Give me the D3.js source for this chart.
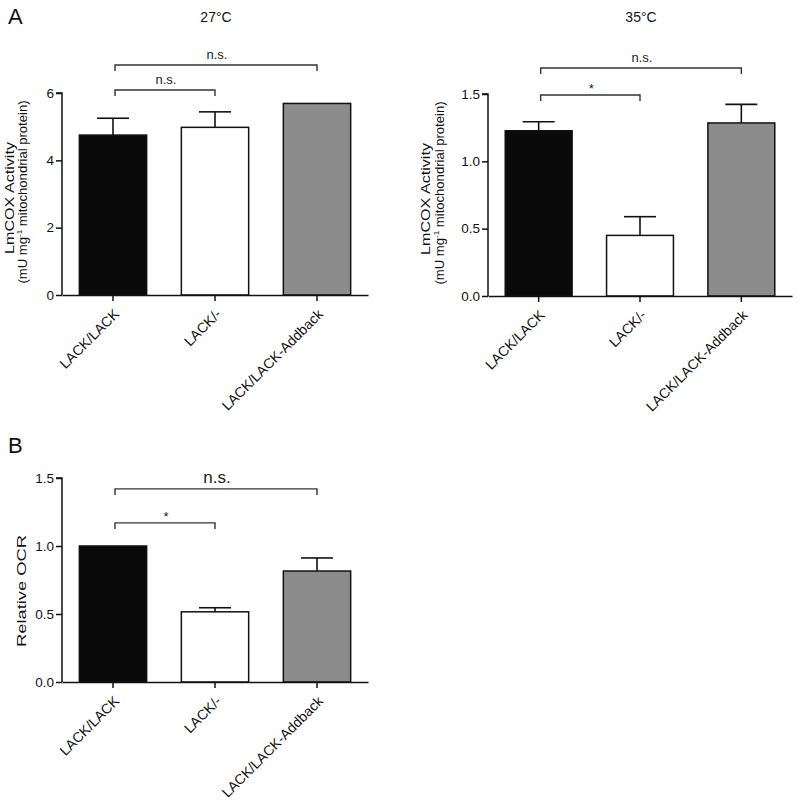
<!DOCTYPE html>
<html><head><meta charset="utf-8">
<script src="https://cdn.jsdelivr.net/npm/d3@7"></script>
<style>body{margin:0;background:#fff}svg{display:block;font-family:"Liberation Sans",Arial,sans-serif}</style>
</head><body>
<svg id="chart" width="800" height="807"></svg>
<script>
const categories = ["LACK/LACK", "LACK/-", "LACK/LACK-Addback"];
const barColors = ["#0a0a0a", "#ffffff", "#8c8c8c"];

const cox27 = [4.75, 4.98, 5.69];
const cox27Err = [0.50, 0.46, 0];
const cox27Ticks = [0, 2, 4, 6];
const cox27Brackets = [
  {from: 0, to: 2, level: 6.83, label: "n.s."},
  {from: 0, to: 1, level: 6.09, label: "n.s."}
];

const cox35 = [1.227, 0.45, 1.285];
const cox35Err = [0.067, 0.139, 0.138];
const cox35Ticks = [0, 0.5, 1.0, 1.5];
const cox35Brackets = [
  {from: 0, to: 2, level: 1.693, label: "n.s."},
  {from: 0, to: 1, level: 1.493, label: "*"}
];

const ocr = [1.0, 0.516, 0.816];
const ocrErr = [0, 0.03, 0.096];
const ocrTicks = [0, 0.5, 1.0, 1.5];
const ocrBrackets = [
  {from: 0, to: 2, level: 1.42, label: "n.s."},
  {from: 0, to: 1, level: 1.17, label: "*"}
];

const svg = d3.select("#chart");

function drawPanel(cfg) {
  const g = svg.append("g");
  const x = d3.scaleBand().domain(categories).range([cfg.x0, cfg.x1])
    .paddingInner(0.34).paddingOuter(0.17);
  const y = d3.scaleLinear().domain([0, cfg.ymax]).range([cfg.yBottom, cfg.yTop]);
  const data = categories.map((c, i) => ({c, v: cfg.values[i], e: cfg.errs[i], col: barColors[i]}));

  // error bars (upper only)
  const eb = g.append("g").selectAll("g").data(data.filter(d => d.e > 0)).join("g");
  eb.append("line")
    .attr("x1", d => x(d.c) + x.bandwidth() / 2).attr("x2", d => x(d.c) + x.bandwidth() / 2)
    .attr("y1", d => y(d.v)).attr("y2", d => y(d.v + d.e))
    .attr("stroke", "#111").attr("stroke-width", 1.6);
  eb.append("line")
    .attr("x1", d => x(d.c) + x.bandwidth() / 2 - 16).attr("x2", d => x(d.c) + x.bandwidth() / 2 + 16)
    .attr("y1", d => y(d.v + d.e)).attr("y2", d => y(d.v + d.e))
    .attr("stroke", "#111").attr("stroke-width", 1.6);

  // bars
  g.append("g").selectAll("rect").data(data).join("rect")
    .attr("x", d => x(d.c)).attr("width", x.bandwidth())
    .attr("y", d => y(d.v)).attr("height", d => y(0) - y(d.v))
    .attr("fill", d => d.col).attr("stroke", "#111").attr("stroke-width", 1.5);

  // y axis
  const yAxis = d3.axisLeft(y).tickValues(cfg.ticks).tickSize(6).tickPadding(2)
    .tickFormat(cfg.fmt);
  const ya = g.append("g").attr("transform", `translate(${cfg.x0},0)`).call(yAxis);
  ya.select(".domain").attr("d", `M-6,${y(cfg.ymax)}H0V${y(0)}`).attr("stroke", "#111").attr("stroke-width", 1.5);
  ya.selectAll(".tick line").attr("stroke", "#111").attr("stroke-width", 1.5);
  ya.selectAll(".tick text").attr("font-size", 13.5).attr("fill", "#111")
    .attr("font-family", '"Liberation Sans",Arial,sans-serif');

  // x axis
  const xAxis = d3.axisBottom(x).tickSize(6).tickSizeOuter(0);
  const xa = g.append("g").attr("transform", `translate(0,${cfg.yBottom})`).call(xAxis);
  xa.select(".domain").attr("stroke", "#111").attr("stroke-width", 1.5);
  xa.selectAll(".tick line").attr("stroke", "#111").attr("stroke-width", 1.5);
  xa.selectAll(".tick text")
    .attr("font-size", 14).attr("fill", "#111")
    .attr("font-family", '"Liberation Sans",Arial,sans-serif')
    .attr("text-anchor", "end").attr("dy", null).attr("y", null)
    .attr("transform", "translate(7,20) rotate(-45)");

  // significance brackets
  const br = g.append("g").selectAll("g").data(cfg.brackets).join("g");
  const cx = i => x(categories[i]) + x.bandwidth() / 2 + 2;
  br.append("path")
    .attr("d", d => `M${cx(d.from)},${y(d.level) + 6}V${y(d.level)}H${cx(d.to) - 2}V${y(d.level) + 6}`)
    .attr("fill", "none").attr("stroke", "#333").attr("stroke-width", 1.4);
  br.append("text")
    .attr("x", d => (cx(d.from) + cx(d.to)) / 2)
    .attr("y", d => y(d.level) - (d.label === "*" ? 2 : 6))
    .attr("text-anchor", "middle")
    .attr("font-size", d => d.label === "*" ? 13 : cfg.nsSize)
    .attr("fill", "#222")
    .text(d => d.label);

  // y label
  const midY = (cfg.yTop + cfg.yBottom) / 2;
  cfg.ylabel.forEach((ln, i) => {
    const t = g.append("text")
      .attr("transform", `translate(${ln.x},${midY + (ln.dy || 0)}) rotate(-90)`)
      .attr("text-anchor", "middle").attr("dominant-baseline", "middle")
      .attr("font-size", ln.size).attr("fill", "#111")
      .attr("textLength", ln.len).attr("lengthAdjust", "spacingAndGlyphs");
    if (ln.sup) {
      t.append("tspan").text(ln.parts[0]);
      t.append("tspan").attr("font-size", 7.5).attr("dy", -4).text(ln.sup);
      t.append("tspan").attr("dy", 4).text(ln.parts[1]);
    } else {
      t.text(ln.text);
    }
  });

  if (cfg.title) {
    g.append("text").attr("x", (cfg.x0 + cfg.x1) / 2 + 1).attr("y", 22)
      .attr("text-anchor", "middle").attr("font-size", 14).attr("fill", "#111").text(cfg.title);
  }
}

const coxLabel = (x1, x2) => [
  {x: x1, size: 12, len: 112, text: "LmCOX Activity", dy: 4},
  {x: x2, size: 12, len: 183, parts: ["(mU mg", " mitochondrial protein)"], sup: "-1", dy: -2}
];

drawPanel({x0: 62, x1: 368, yTop: 93, yBottom: 295, ymax: 6, values: cox27, errs: cox27Err,
  ticks: cox27Ticks, fmt: d3.format("d"), brackets: cox27Brackets, nsSize: 13,
  ylabel: coxLabel(11, 24), title: "27°C"});

drawPanel({x0: 488, x1: 792, yTop: 94, yBottom: 296, ymax: 1.5, values: cox35, errs: cox35Err,
  ticks: cox35Ticks, fmt: d3.format(".1f"), brackets: cox35Brackets, nsSize: 13,
  ylabel: coxLabel(427, 441), title: "35°C"});

drawPanel({x0: 62, x1: 368, yTop: 478, yBottom: 682, ymax: 1.5, values: ocr, errs: ocrErr,
  ticks: ocrTicks, fmt: d3.format(".1f"), brackets: ocrBrackets, nsSize: 17,
  ylabel: [{x: 23, size: 12.5, len: 112, text: "Relative OCR", dy: 11}]});

svg.append("text").attr("x", 8).attr("y", 24).attr("font-size", 22).attr("fill", "#111").text("A");
svg.append("text").attr("x", 8).attr("y", 453).attr("font-size", 22).attr("fill", "#111").text("B");
</script>
</body></html>
